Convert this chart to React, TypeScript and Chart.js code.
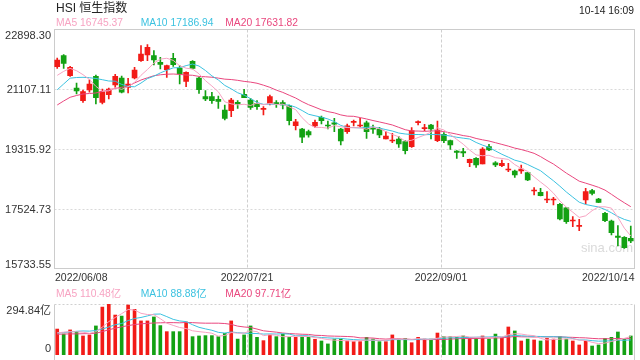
import React, { useEffect, useRef } from 'react';
import { Chart, registerables } from 'chart.js';

Chart.register(...registerables);

const dates = [
  '2022/06/08','2022/06/09','2022/06/10','2022/06/13','2022/06/14','2022/06/15','2022/06/16','2022/06/17','2022/06/20','2022/06/21',
  '2022/06/22','2022/06/23','2022/06/24','2022/06/27','2022/06/28','2022/06/29','2022/06/30','2022/07/04','2022/07/05','2022/07/06',
  '2022/07/07','2022/07/08','2022/07/11','2022/07/12','2022/07/13','2022/07/14','2022/07/15','2022/07/18','2022/07/19','2022/07/20',
  '2022/07/21','2022/07/22','2022/07/25','2022/07/26','2022/07/27','2022/07/28','2022/07/29','2022/08/01','2022/08/02','2022/08/03',
  '2022/08/04','2022/08/05','2022/08/08','2022/08/09','2022/08/10','2022/08/11','2022/08/12','2022/08/15','2022/08/16','2022/08/17',
  '2022/08/18','2022/08/19','2022/08/22','2022/08/23','2022/08/24','2022/08/25','2022/08/26','2022/08/29','2022/08/30','2022/08/31',
  '2022/09/01','2022/09/02','2022/09/05','2022/09/06','2022/09/07','2022/09/08','2022/09/09','2022/09/13','2022/09/14','2022/09/15',
  '2022/09/16','2022/09/19','2022/09/20','2022/09/21','2022/09/22','2022/09/23','2022/09/26','2022/09/27','2022/09/28','2022/09/29',
  '2022/09/30','2022/10/03','2022/10/05','2022/10/06','2022/10/07','2022/10/10','2022/10/11','2022/10/12','2022/10/13','2022/10/14',
];

const opens = [
  21780,22110,21510,21142,20761,21082,21492,20713,20941,21232,
  21441,21162,21441,21960,22131,22110,21912,21690,22032,21741,
  21342,21942,21441,20881,20881,20803,20482,20461,20713,20952,
  20782,20683,20503,20683,20702,20702,20610,20011,19913,19832,
  20002,20263,20023,20100,19913,19832,20113,20002,20101,19934,
  19913,19613,19553,19613,19533,19382,20103,19923,20032,19563,
  19753,19563,19253,19233,18902,19034,18863,19383,18902,18812,
  18684,18653,18653,18603,18054,18014,17784,17784,17654,17553,
  17154,16994,17784,18064,17814,17384,17154,16705,16665,16635,
];
const highs = [
  22040,22140,21792,21291,21082,21390,21531,21112,21142,21552,
  21501,21432,21762,22410,22440,22260,22062,21831,22182,21810,
  21630,21960,21462,21061,21013,20902,20632,20833,20761,21103,
  20833,20761,20581,20932,20761,20761,20632,20203,19934,19882,
  20182,20302,20152,20233,19934,20062,20182,20233,20152,20032,
  19963,19832,19783,19683,19563,19952,20161,20053,20053,20152,
  19803,19583,19263,19333,19013,19052,19353,19453,18933,18983,
  18884,18683,18833,18603,18153,18134,18034,17864,17684,17565,
  17284,17204,18134,18104,17834,17414,17184,17014,16685,17005,
];
const lows = [
  21730,21732,21492,20962,20713,21013,20662,20662,20812,21162,
  20992,20992,21411,21942,21960,21831,21711,21462,21792,21262,
  21180,21711,20982,20761,20683,20533,20182,20281,20533,20851,
  20503,20503,20332,20632,20563,20512,20032,19882,19502,19664,
  19952,20062,19912,19832,19433,19783,20002,19963,19633,19783,
  19653,19613,19502,19363,19163,19363,20032,19862,19613,19533,
  19502,19303,19034,19083,18782,18764,18863,19263,18782,18782,
  18633,18464,18584,18364,17934,17904,17703,17634,17184,17085,
  16984,16864,17664,17934,17704,17134,16734,16405,16335,16504,
];
const closes = [
  21981,21882,21762,21051,21031,21262,20851,21031,21112,21492,
  21013,21262,21681,22161,22362,21981,21852,21810,21840,21561,
  21612,21732,21091,20812,20761,20743,20233,20782,20662,20851,
  20563,20581,20533,20881,20662,20632,20161,20131,19664,19733,
  20113,20161,20002,20060,19553,20011,20123,20012,19832,19904,
  19733,19703,19583,19463,19262,19862,20113,19943,19913,19882,
  19563,19433,19213,19193,19004,18833,19313,19283,18833,18884,
  18694,18533,18713,18384,18064,17914,17794,17794,17214,17134,
  17164,17004,18034,17984,17714,17164,16804,16665,16354,16555,
];

const ma5 = [
  21520,21640,21730,21660,21541,21398,21191,21045,21057,21150,
  21100,21182,21312,21522,21696,21889,22007,22033,21969,21809,
  21735,21711,21567,21362,21202,21028,20728,20666,20636,20654,
  20618,20688,20638,20682,20644,20658,20574,20493,20250,20064,
  19960,19960,19935,20014,19978,19957,19950,19952,19906,19976,
  19921,19837,19751,19677,19549,19575,19657,19729,19819,19943,
  19883,19747,19601,19457,19281,19135,19111,19125,19053,19029,
  19001,18845,18731,18642,18478,18322,18174,17990,17756,17570,
  17420,17262,17310,17464,17580,17580,17540,17266,16940,16708,
];
const ma10 = [
  21088,21262,21436,21456,21462,21450,21426,21390,21351,21346,
  21249,21187,21179,21290,21423,21495,21595,21673,21746,21753,
  21812,21859,21800,21666,21506,21382,21220,21117,20999,20928,
  20823,20708,20652,20659,20649,20638,20631,20566,20466,20354,
  20309,20267,20214,20132,20021,19959,19955,19944,19960,19977,
  19939,19894,19852,19792,19763,19748,19747,19740,19748,19746,
  19729,19702,19665,19638,19612,19509,19429,19363,19255,19155,
  19068,18978,18928,18848,18754,18662,18510,18361,18199,18024,
  17871,17718,17650,17610,17575,17500,17401,17288,17202,17144,
];
const ma20 = [
  20632,20752,20863,20917,20962,20977,20992,21037,21082,21127,
  21163,21196,21292,21381,21447,21510,21537,21555,21561,21549,
  21531,21523,21489,21478,21464,21438,21407,21395,21372,21340,
  21318,21284,21226,21162,21077,21010,20925,20841,20733,20641,
  20566,20488,20433,20396,20335,20298,20293,20255,20213,20166,
  20124,20080,20033,19962,19892,19853,19851,19842,19854,19862,
  19834,19798,19758,19715,19687,19629,19588,19552,19502,19451,
  19399,19340,19297,19243,19183,19085,18969,18862,18727,18590,
  18470,18348,18289,18229,18164,18081,17955,17824,17701,17584,
];

const volumes = [
  150,121,145,135,110,116,168,277,293,231,
  225,289,264,197,197,220,170,135,135,135,
  191,106,110,112,112,106,125,197,92,116,
  168,102,83,116,106,121,102,102,106,102,
  91,81,64,92,92,81,77,77,102,92,
  77,77,116,92,96,71,102,92,92,127,
  106,106,102,110,96,96,110,92,121,102,
  162,139,81,92,87,81,96,92,106,92,
  81,58,81,52,58,96,102,133,92,110,
];
const volMa5 = [
  128,132,135,134,132,125,135,161,193,217,
  239,263,260,241,234,233,210,184,171,159,
  153,140,135,131,126,109,113,130,126,127,
  140,135,112,117,115,106,106,109,107,107,
  101,96,89,86,84,82,81,84,86,86,
  85,85,93,91,92,90,95,91,91,97,
  104,105,107,110,104,102,103,101,103,104,
  117,123,121,115,112,96,87,90,92,93,
  93,86,84,73,66,69,78,88,96,107,
];
const volMa10 = [
  127,130,133,137,139,138,142,150,162,175,
  182,199,211,217,226,236,237,222,206,197,
  193,175,160,151,143,131,127,133,129,127,
  125,124,121,122,121,123,121,111,112,111,
  104,101,99,97,96,92,89,87,86,85,
  84,83,89,89,89,88,90,92,91,95,
  97,100,99,101,101,103,104,104,107,104,
  110,113,111,109,108,107,105,106,104,103,
  95,87,87,83,80,81,82,86,85,87,
];
const volMa20 = [
  120,121,122,122,123,124,126,135,146,155,
  163,170,176,180,183,185,186,187,187,186,
  188,187,185,184,184,184,182,177,167,162,
  159,150,140,136,132,127,124,122,120,119,
  114,113,110,109,108,107,105,99,99,98,
  94,92,94,93,92,90,89,89,89,90,
  90,92,94,95,95,95,97,98,99,99,
  103,107,105,105,104,105,105,105,105,103,
  102,100,99,96,94,94,94,96,94,95,
];

const yTickValues = [22898.30, 21107.11, 19315.92, 17524.73, 15733.55];
const yTickLabels = ['22898.30', '21107.11', '19315.92', '17524.73', '15733.55'];
const xTickLabels = ['2022/06/08', '2022/07/21', '2022/09/01', '2022/10/14'];
const volTickValues = [294.84, 0];
const volTickLabels = ['294.84亿', '0'];

const titleText = 'HSI 恒生指数';
const timeText = '10-14 16:09';
const priceLegend = [
  ['MA5', '16745.37'],
  ['MA10', '17186.94'],
  ['MA20', '17631.82'],
];
const volLegend = [
  ['MA5', '110.48亿'],
  ['MA10', '88.88亿'],
  ['MA20', '97.71亿'],
];
const watermark = 'sina.com';

const UP = '#f21b17';
const DOWN = '#13a113';
const MA_COLORS = ['#f7a3c2', '#3cc2e0', '#e9477e'];
const FONT = '"Liberation Sans", Arial, Helvetica, sans-serif';
const CJK_FONT = '"Liberation Sans", Arial, "Noto Sans CJK SC", sans-serif';
const LEGEND_X = [56, 140.7, 225.3];

function vLinesX(chart: any): number[] {
  const x = chart.scales.x;
  const step = x.getPixelForValue(1) - x.getPixelForValue(0);
  return xTickLabels.slice(1, -1).map((lbl) => {
    const idx = dates.indexOf(lbl);
    return Math.round(x.getPixelForValue(idx) - step / 2) + 0.5;
  });
}

const mainDecor = {
  id: 'mainDecor',
  beforeDatasetsDraw(chart: any) {
    const { ctx, chartArea: a, scales } = chart;
    const y = scales.y;
    const L = Math.round(a.left) + 0.5;
    const R = Math.round(a.right) + 0.5;
    const T = Math.round(a.top) + 0.5;
    const B = Math.round(a.bottom) + 0.5;
    ctx.save();
    ctx.lineWidth = 1;
    ctx.strokeStyle = '#d9d9d9';
    ctx.setLineDash([2, 2]);
    yTickValues.forEach((v, k) => {
      if (k === 0 || k === yTickValues.length - 1) return;
      const py = Math.round(y.getPixelForValue(v)) + 0.5;
      ctx.beginPath();
      ctx.moveTo(L, py);
      ctx.lineTo(R, py);
      ctx.stroke();
    });
    ctx.strokeStyle = '#cfcfcf';
    ctx.setLineDash([3, 2]);
    vLinesX(chart).forEach((px) => {
      ctx.beginPath();
      ctx.moveTo(px, T);
      ctx.lineTo(px, B);
      ctx.stroke();
    });
    ctx.setLineDash([]);
    ctx.strokeStyle = '#cccccc';
    ctx.strokeRect(L, T, R - L, B - T);

    ctx.fillStyle = '#dadada';
    ctx.font = '13px ' + FONT;
    ctx.textAlign = 'right';
    ctx.textBaseline = 'alphabetic';
    ctx.fillText(watermark, a.right - 1, a.bottom - 16);
    ctx.restore();
  },
  afterDraw(chart: any) {
    const { ctx, chartArea: a, scales } = chart;
    const x = scales.x;
    const y = scales.y;
    ctx.save();
    ctx.fillStyle = '#333';
    ctx.font = '11px ' + FONT;
    ctx.textAlign = 'right';
    ctx.textBaseline = 'alphabetic';
    yTickValues.forEach((v, k) => {
      const py = Math.round(y.getPixelForValue(v));
      let by = py + 4;
      if (k === 0) by = Math.round(a.top) + 10;
      if (k === yTickValues.length - 1) by = Math.round(a.bottom) - 0.5;
      ctx.fillText(yTickLabels[k], 51, by);
    });
    ctx.font = '10.5px ' + FONT;
    const step = x.getPixelForValue(1) - x.getPixelForValue(0);
    xTickLabels.forEach((lbl, k) => {
      const idx = dates.indexOf(lbl);
      const by = Math.round(a.bottom) + 12.5;
      if (k === 0) {
        ctx.textAlign = 'left';
        ctx.fillText(lbl, a.left + 1, by);
      } else if (k === xTickLabels.length - 1) {
        ctx.textAlign = 'right';
        ctx.fillText(lbl, a.right + 0.5, by);
      } else {
        ctx.textAlign = 'center';
        ctx.fillText(lbl, Math.round(x.getPixelForValue(idx) - step / 2), by);
      }
    });
    ctx.restore();
  },
};

const volDecor = {
  id: 'volDecor',
  beforeDatasetsDraw(chart: any) {
    const { ctx, chartArea: a, height } = chart;
    const L = Math.round(a.left) + 0.5;
    const R = Math.round(a.right) + 0.5;
    const T = Math.round(a.top) + 0.5;
    ctx.save();
    ctx.lineWidth = 1;
    ctx.strokeStyle = '#d0d0d0';
    ctx.setLineDash([2, 2]);
    ctx.beginPath();
    ctx.moveTo(L, T);
    ctx.lineTo(R, T);
    ctx.stroke();
    ctx.strokeStyle = '#cfcfcf';
    ctx.setLineDash([3, 2]);
    vLinesX(chart).forEach((px) => {
      ctx.beginPath();
      ctx.moveTo(px, T);
      ctx.lineTo(px, height);
      ctx.stroke();
    });
    ctx.setLineDash([]);
    ctx.strokeStyle = '#cccccc';
    ctx.beginPath();
    ctx.moveTo(L, T);
    ctx.lineTo(L, height);
    ctx.moveTo(R, T);
    ctx.lineTo(R, height);
    ctx.stroke();
    ctx.restore();
  },
  afterDraw(chart: any) {
    const { ctx, chartArea: a } = chart;
    ctx.save();
    ctx.fillStyle = '#333';
    ctx.font = '11px ' + CJK_FONT;
    ctx.textAlign = 'right';
    ctx.textBaseline = 'alphabetic';
    volTickValues.forEach((v, k) => {
      const by = k === 0 ? Math.round(a.top) + 10 : Math.round(a.bottom) - 3;
      ctx.fillText(volTickLabels[k], 51, by);
    });
    ctx.restore();
  },
};

function lineDs(data: number[], color: string) {
  return {
    type: 'line' as const,
    data,
    borderColor: color,
    borderWidth: 1,
    pointRadius: 0,
    fill: false,
    tension: 0,
    order: 0,
  };
}

export default function App() {
  const mainRef = useRef<HTMLCanvasElement>(null);
  const volRef = useRef<HTMLCanvasElement>(null);

  useEffect(() => {
    const colors = closes.map((c, i) => (c >= opens[i] ? UP : DOWN));
    const wickData = lows.map((l, i) => [l, highs[i]]);
    const bodyData = opens.map((o, i) => [o, closes[i]]);

    const main = new Chart(mainRef.current as HTMLCanvasElement, {
      type: 'bar',
      data: {
        labels: dates,
        datasets: [
          lineDs(ma5, MA_COLORS[0]),
          lineDs(ma10, MA_COLORS[1]),
          lineDs(ma20, MA_COLORS[2]),
          {
            type: 'bar',
            data: bodyData as any,
            backgroundColor: colors,
            barThickness: 5,
            minBarLength: 1,
            grouped: false,
            borderWidth: 0,
            order: 1,
          } as any,
          {
            type: 'bar',
            data: wickData as any,
            backgroundColor: colors,
            barThickness: 1,
            grouped: false,
            borderWidth: 0,
            order: 2,
          } as any,
        ],
      },
      options: {
        responsive: false,
        animation: false,
        events: [],
        layout: { padding: { left: 54, right: 6, top: 29.4, bottom: 21.6 } },
        plugins: { legend: { display: false }, tooltip: { enabled: false } },
        scales: {
          x: { type: 'category', display: false, offset: true },
          y: { type: 'linear', display: false, min: yTickValues[yTickValues.length - 1], max: yTickValues[0] },
        },
      },
      plugins: [mainDecor],
    });

    const vol = new Chart(volRef.current as HTMLCanvasElement, {
      type: 'bar',
      data: {
        labels: dates,
        datasets: [
          lineDs(volMa5, MA_COLORS[0]),
          lineDs(volMa10, MA_COLORS[1]),
          lineDs(volMa20, MA_COLORS[2]),
          {
            type: 'bar',
            data: volumes,
            backgroundColor: colors,
            barThickness: 3,
            grouped: false,
            borderWidth: 0,
            order: 1,
          } as any,
        ],
      },
      options: {
        responsive: false,
        animation: false,
        events: [],
        layout: { padding: { left: 54, right: 6, top: 14, bottom: 5 } },
        plugins: { legend: { display: false }, tooltip: { enabled: false } },
        scales: {
          x: { type: 'category', display: false, offset: true },
          y: { type: 'linear', display: false, min: volTickValues[1], max: volTickValues[0] },
        },
      },
      plugins: [volDecor],
    });

    return () => {
      main.destroy();
      vol.destroy();
    };
  }, []);

  const abs: React.CSSProperties = { position: 'absolute', whiteSpace: 'nowrap', lineHeight: 1 };

  return (
    <div style={{ position: 'absolute', left: 0, top: 0, width: 640, height: 360, background: '#fff', overflow: 'hidden' }}>
      <canvas ref={mainRef} width={640} height={290} style={{ position: 'absolute', left: 0, top: 0 }} />
      <canvas ref={volRef} width={640} height={70} style={{ position: 'absolute', left: 0, top: 290 }} />
      <div style={{ ...abs, left: 56, top: 1.8, fontSize: 12, fontFamily: CJK_FONT, color: '#222' }}>{titleText}</div>
      <div style={{ ...abs, right: 6, top: 6.3, fontSize: 10.3, fontFamily: FONT, color: '#222' }}>{timeText}</div>
      {priceLegend.map(([k, v], i) => (
        <div key={'p' + k} style={{ ...abs, left: LEGEND_X[i], top: 18.3, fontSize: 10.3, fontFamily: FONT, color: MA_COLORS[i] }}>
          {k} {v}
        </div>
      ))}
      {volLegend.map(([k, v], i) => (
        <div key={'v' + k} style={{ ...abs, left: LEGEND_X[i], top: 289.3, fontSize: 10.3, fontFamily: CJK_FONT, color: MA_COLORS[i] }}>
          {k} {v}
        </div>
      ))}
    </div>
  );
}
